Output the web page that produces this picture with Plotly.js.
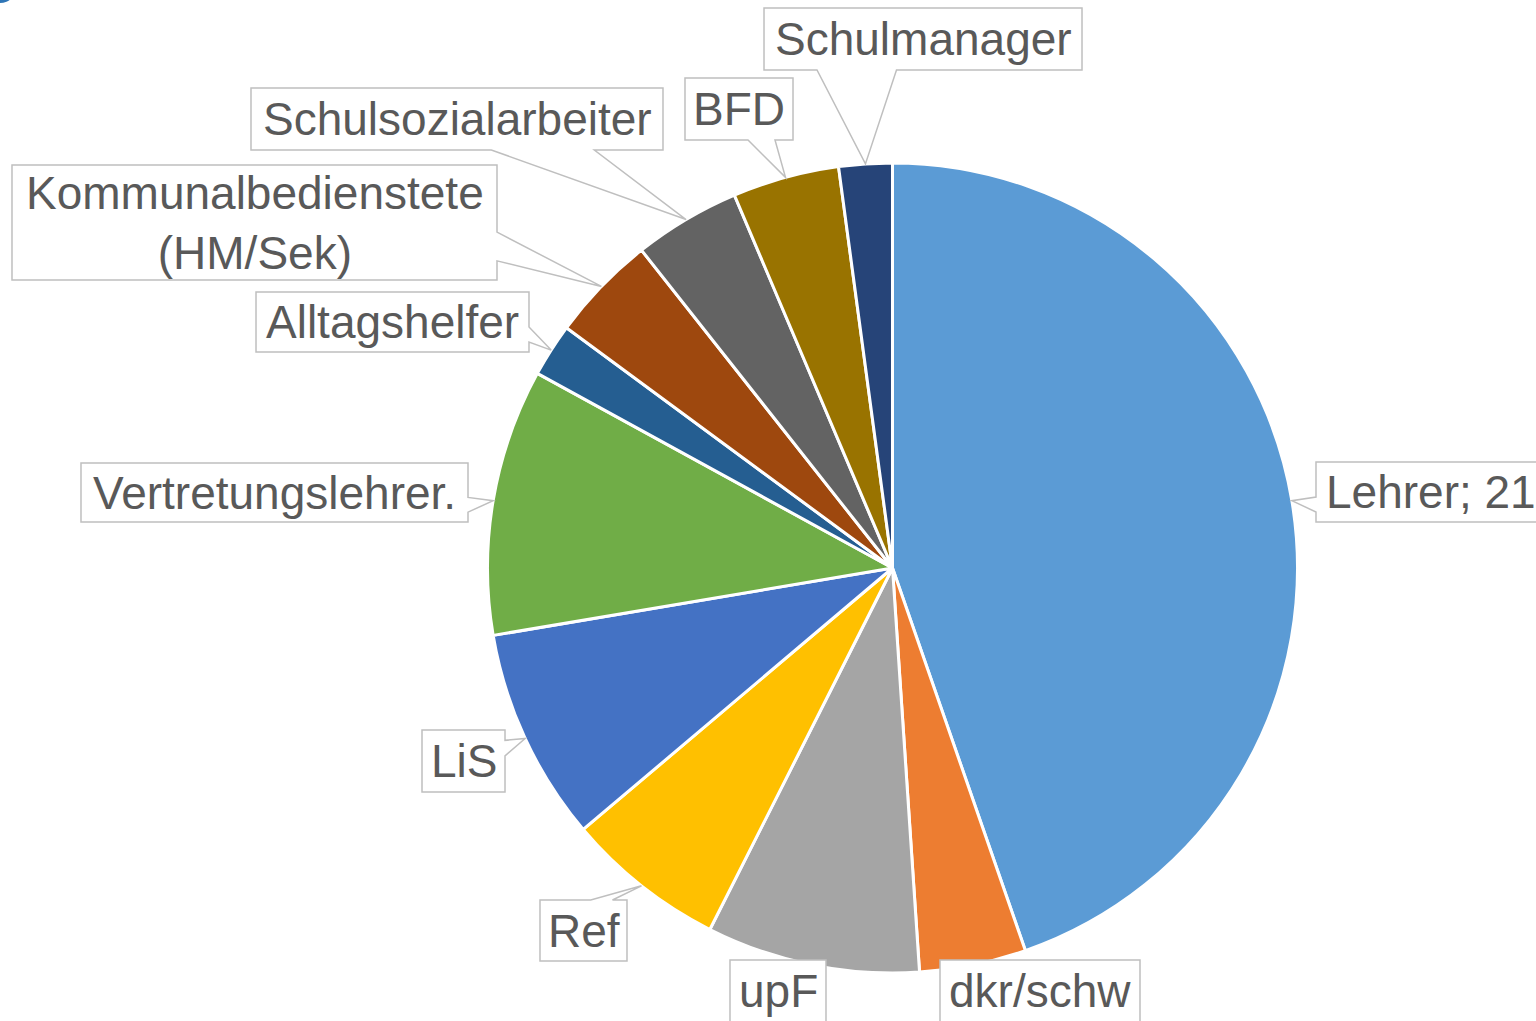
<!DOCTYPE html>
<html>
<head>
<meta charset="utf-8">
<script src="https://cdn.plot.ly/plotly-3.0.1.min.js"></script>
<style>
  html, body { margin: 0; padding: 0; background: #ffffff; }
  #chart { width: 1536px; height: 1021px; }
</style>
</head>
<body>
<div id="chart"></div>
<script>
// ---- data ----
const categories = ["Lehrer", "dkr/schw", "upF", "Ref", "LiS", "Vertretungslehrer.",
  "Alltagshelfer", "Kommunalbedienstete (HM/Sek)", "Schulsozialarbeiter", "BFD", "Schulmanager"];
const values = [21, 2, 4, 3, 4, 5, 1, 2, 2, 2, 1];
const displayLabels = ["Lehrer; 21", "dkr/schw", "upF", "Ref", "LiS", "Vertretungslehrer.",
  "Alltagshelfer", "Kommunalbedienstete<br>(HM/Sek)", "Schulsozialarbeiter", "BFD", "Schulmanager"];
const colors = ["#5B9BD5", "#ED7D31", "#A5A5A5", "#FFC000", "#4472C4", "#70AD47",
  "#255E91", "#9E480E", "#636363", "#997300", "#264478"];

// ---- layout (pixels) ----
const W = 1536, H = 1021;
const cx = 892.5, cy = 568, R = 405;
// label box centres and sizes [x, y, w, h]
const labelBoxes = [
  [1431, 492, 230, 60],
  [1040, 991, 200, 62],
  [778, 991, 96, 62],
  [583.5, 930.5, 87, 61],
  [463.5, 761, 83, 62],
  [274.5, 492.5, 387, 59],
  [392.5, 322, 273, 60],
  [254.5, 222.5, 485, 115],
  [457, 119, 412, 62],
  [739, 109, 108, 62],
  [923, 39, 318, 62]
];

const P = (x, y) => (x / W).toFixed(5) + ',' + (1 - y / H).toFixed(5);

const total = values.reduce((a, b) => a + b, 0);
let cum = 0;
const annotations = [];
const shapes = [{
  type: 'circle', xref: 'paper', yref: 'paper',
  x0: -17 / W, x1: 17 / W, y0: 1 + 31 / H, y1: 1 - 3 / H,
  fillcolor: '#2E75B6', line: { width: 0 }, layer: 'above'
}];

values.forEach((v, i) => {
  const mid = (cum + v / 2) / total;
  cum += v;
  const th = 2 * Math.PI * mid;
  const tx = cx + R * Math.sin(th);
  const ty = cy - R * Math.cos(th);
  const [bx, by, w, h] = labelBoxes[i];
  const l = bx - w / 2, r = bx + w / 2, t = by - h / 2, b = by + h / 2;
  const dx = tx - bx, dy = ty - by;
  const inside = tx > l - 6 && tx < r + 6 && ty > t - 6 && ty < b + 6;
  let edge = null, a1 = 0, a2 = 0;
  if (!inside) {
    const dq = dx * h / w;
    if (Math.abs(dy) > Math.abs(dq)) {
      edge = dy > 0 ? 'bottom' : 'top';
      a1 = l + w * (dx > 0 ? 7 : 2) / 12; a2 = l + w * (dx > 0 ? 10 : 5) / 12;
    } else {
      edge = dx > 0 ? 'right' : 'left';
      a1 = t + h * (dy > 0 ? 7 : 2) / 12; a2 = t + h * (dy > 0 ? 10 : 5) / 12;
    }
  }
  const tip = P(tx, ty);
  let d = 'M' + P(l, t);
  if (edge === 'top') d += ' L' + P(a1, t) + ' L' + tip + ' L' + P(a2, t);
  d += ' L' + P(r, t);
  if (edge === 'right') d += ' L' + P(r, a1) + ' L' + tip + ' L' + P(r, a2);
  d += ' L' + P(r, b);
  if (edge === 'bottom') d += ' L' + P(a2, b) + ' L' + tip + ' L' + P(a1, b);
  d += ' L' + P(l, b);
  if (edge === 'left') d += ' L' + P(l, a2) + ' L' + tip + ' L' + P(l, a1);
  d += ' Z';
  shapes.push({
    type: 'path', xref: 'paper', yref: 'paper', path: d, layer: 'above',
    fillcolor: '#FFFFFF', line: { color: '#BFBFBF', width: 1.5 }
  });
  annotations.push({
    xref: 'paper', yref: 'paper',
    x: bx / W, y: 1 - by / H, xanchor: 'center', yanchor: 'middle',
    text: displayLabels[i], showarrow: false,
    align: 'center',
    font: { family: 'Liberation Sans, Arial, sans-serif', size: 46, color: '#595959' }
  });
});

const trace = {
  type: 'pie',
  labels: categories,
  values: values,
  sort: false,
  direction: 'clockwise',
  rotation: 0,
  textinfo: 'none',
  hoverinfo: 'label+value',
  showlegend: false,
  marker: { colors: colors, line: { color: '#FFFFFF', width: 3 } },
  domain: { x: [(cx - R) / W, (cx + R) / W], y: [1 - (cy + R) / H, 1 - (cy - R) / H] }
};

const layout = {
  width: W, height: H,
  margin: { l: 0, r: 0, t: 0, b: 0 },
  paper_bgcolor: '#FFFFFF',
  plot_bgcolor: '#FFFFFF',
  showlegend: false,
  annotations: annotations,
  shapes: shapes
};

Plotly.newPlot('chart', [trace], layout, { displayModeBar: false, staticPlot: true });
</script>
</body>
</html>
